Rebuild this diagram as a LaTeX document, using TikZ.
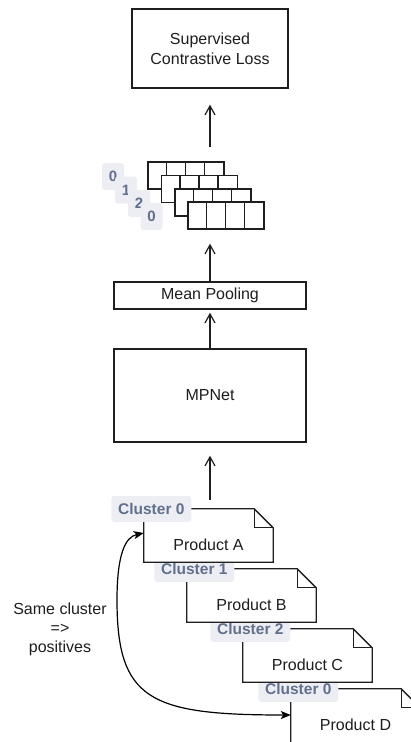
\documentclass[tikz,border=0pt]{standalone}
\usepackage{fontspec}
\setmainfont{Liberation Sans}
\usetikzlibrary{arrows.meta}

\definecolor{ink}{RGB}{30,30,30}
\definecolor{tagfill}{RGB}{236,238,244}
\definecolor{tagtext}{RGB}{98,112,140}

\tikzset{
  box/.style={draw=ink, line width=1.3pt, fill=white, inner sep=0pt,
    text=ink, align=center, font=\fontsize{16}{20}\selectfont},
  docbox/.style={inner sep=0pt, minimum width=129pt, minimum height=53pt},
  docline/.style={draw=ink, line width=1.3pt, fill=white, line join=miter},
  tag/.style={fill=tagfill, rounded corners=3pt, text=tagtext, inner sep=0pt,
    minimum width=80pt, minimum height=26pt,
    font=\fontsize{15.5}{18}\selectfont\bfseries},
  idx/.style={tag, minimum width=22pt, minimum height=27pt,
    font=\fontsize{15}{18}\selectfont\bfseries},
  txt/.style={text=ink, inner sep=0pt, align=center,
    font=\fontsize{16}{19}\selectfont},
  rowbox/.style={draw=ink, line width=1.3pt, fill=white, inner sep=0pt,
    minimum width=76pt, minimum height=27pt},
  flow/.style={draw=ink, line width=1.2pt,
    -{Straight Barb[length=9pt,width=10pt,line width=1.2pt]}},
  pair/.style={draw=black, line width=1.2pt,
    {Stealth[length=10pt,width=8pt,inset=2.5pt]}-{Stealth[length=10pt,width=8pt,inset=2.5pt]}}
}

% document outline with a folded top-right corner
\newcommand\docoutline[1]{%
  \draw[docline] (#1.north west) -- ([xshift=-19pt]#1.north east)
    -- ([yshift=-19pt]#1.north east) -- (#1.south east) -- (#1.south west) -- cycle;
  \draw[docline, fill=none] ([xshift=-19pt]#1.north east)
    -- ([xshift=-19pt,yshift=-19pt]#1.north east) -- ([yshift=-19pt]#1.north east);
}

% one embedding row: four cells
\newcommand\tokrow[3]{%
  \node[rowbox] (#1) at (#2,#3) {};
  \foreach \k in {1,2,3}
    \draw[ink, line width=1.3pt] ([xshift=\k*19pt]#1.north west) -- ([xshift=\k*19pt]#1.south west);
}

\begin{document}
\begin{tikzpicture}[x=1pt,y=-1pt]
\useasboundingbox (0,0) rectangle (411,742);
\clip (0,0) rectangle (411,742);

% model stack
\node[box, minimum width=156pt, minimum height=79pt] (loss) at (210,48.5) {Supervised\\Contrastive Loss};
\node[box, minimum width=192pt, minimum height=27pt] (pool) at (210,295.5) {Mean Pooling};
\node[box, minimum width=192pt, minimum height=93pt] (mpnet) at (210,395.5) {MPNet};

% cluster indices of the sentence embeddings
\node[idx] (i1) at (113,176.5) {0};
\node[idx] (i2) at (126,190) {1};
\node[idx] (i3) at (139,203.5) {2};
\node[idx] (i4) at (151.5,216.5) {0};

% sentence embeddings
\tokrow{g1}{186}{175.5}
\tokrow{g2}{199.5}{189}
\tokrow{g3}{213}{202.5}
\tokrow{g4}{226}{215.5}

% products, drawn from the bottom up so each one overlaps the tag below it
\node[docbox, minimum height=56pt] (pD) at (355.5,717) {};
\docoutline{pD}
\node[txt] (tD) at ([yshift=-36pt]pD.north) {Product D};
\node[tag] (cD) at ([xshift=7.5pt]pD.north west) {Cluster 0};

\node[docbox] (pC) at (307.5,655.5) {};
\docoutline{pC}
\node[txt] (tC) at ([yshift=-36pt]pC.north) {Product C};
\node[tag] (cC) at ([xshift=7.5pt]pC.north west) {Cluster 2};

\node[docbox] (pB) at (251.5,595.5) {};
\docoutline{pB}
\node[txt] (tB) at ([yshift=-36pt]pB.north) {Product B};
\node[tag] (cB) at ([xshift=7.5pt]pB.north west) {Cluster 1};

\node[docbox] (pA) at (208.5,535.5) {};
\docoutline{pA}
\node[txt] (tA) at ([yshift=-36pt]pA.north) {Product A};
\node[tag] (cA) at ([xshift=7.5pt]pA.north west) {Cluster 0};

% upward flow
\draw[flow, shorten <=9pt, shorten >=13pt] (mpnet.south |- pA.north) -- (mpnet.south);
\draw[flow, shorten >=3pt] (mpnet.north) -- (pool.south);
\draw[flow, shorten >=14pt] (pool.north) -- (pool.north |- g4.south);
\draw[flow, shorten <=14pt, shorten >=16pt] (loss.south |- g1.north) -- (loss.south);

% positives link
\draw[pair] ([yshift=2.5pt]pA.west) .. controls (125,537) and (117,555) .. (117,600)
  .. controls (117,700) and (150,715) .. ([yshift=2pt]pD.west);
\node[txt] (note) at (60,629) {Same cluster\\=>\\positives};
\end{tikzpicture}
\end{document}
